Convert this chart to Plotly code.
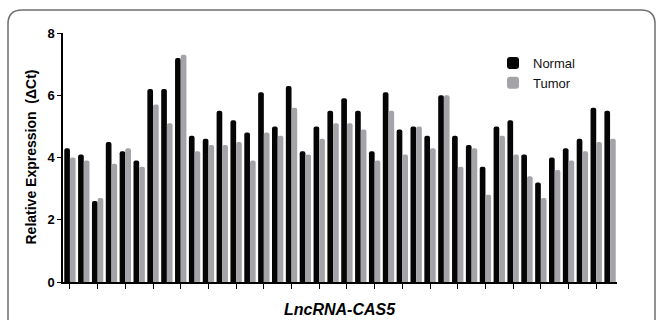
import plotly.graph_objects as go

samples = [str(i) for i in range(1, 41)]
normal = [4.3, 4.1, 2.6, 4.5, 4.2, 3.9, 6.2, 6.2, 7.2, 4.7,
          4.6, 5.5, 5.2, 4.8, 6.1, 5.0, 6.3, 4.2, 5.0, 5.5,
          5.9, 5.5, 4.2, 6.1, 4.9, 5.0, 4.7, 6.0, 4.7, 4.4,
          3.7, 5.0, 5.2, 4.1, 3.2, 4.0, 4.3, 4.6, 5.6, 5.5]
tumor = [4.0, 3.9, 2.7, 3.8, 4.3, 3.7, 5.7, 5.1, 7.3, 4.2,
         4.4, 4.4, 4.5, 3.9, 4.8, 4.7, 5.6, 4.1, 4.6, 5.1,
         5.1, 4.9, 3.9, 5.5, 4.1, 5.0, 4.3, 6.0, 3.7, 4.3,
         2.8, 4.7, 4.1, 3.4, 2.7, 3.6, 3.9, 4.2, 4.5, 4.6]
y_ticks = [0, 2, 4, 6, 8]
x_title = "LncRNA-CAS5"
y_title = "Relative Expression  (ΔCt)"

W, H = 657, 320
L, R, T, B = 63, 40, 33, 38
pw, ph = W - L - R, H - T - B


def px(x):
    return (x - L) / pw


def py(y):
    return (H - B - y) / ph


FONT = "Arial, Liberation Sans, sans-serif"

fig = go.Figure()
fig.add_trace(go.Bar(x=samples, y=normal, name="Normal",
                     marker=dict(color="#050505", line=dict(width=0))))
fig.add_trace(go.Bar(x=samples, y=tumor, name="Tumor",
                     marker=dict(color="#a4a4a8", line=dict(width=0))))

# rounded frame (top and sides)
r = 14
xl, xr, yt, yb = 8, 655, 10, 340
path = (f"M {px(xl)},{py(yb)} L {px(xl)},{py(yt + r)} "
        f"Q {px(xl)},{py(yt)} {px(xl + r)},{py(yt)} "
        f"L {px(xr - r)},{py(yt)} "
        f"Q {px(xr)},{py(yt)} {px(xr)},{py(yt + r)} "
        f"L {px(xr)},{py(yb)}")
fig.add_shape(type="path", path=path, xref="paper", yref="paper",
              line=dict(color="#6e6e6e", width=1.5), layer="below")

fig.add_annotation(text=f"<b><i>{x_title}</i></b>", xref="paper", yref="paper",
                   x=0.5, y=py(309), xanchor="center", yanchor="middle",
                   showarrow=False, font=dict(size=16, family=FONT))
fig.add_annotation(text=f"<b>{y_title}</b>", xref="paper", yref="paper",
                   x=px(30), y=0.5, xanchor="center", yanchor="middle",
                   textangle=-90, showarrow=False,
                   font=dict(size=14, family=FONT))

fig.update_layout(
    width=W, height=H,
    margin=dict(l=L, r=R, t=T, b=B, autoexpand=False),
    barmode="group", bargap=0.18, bargroupgap=0, barcornerradius=2,
    plot_bgcolor="white", paper_bgcolor="white",
    font=dict(family=FONT, color="#000000"),
    showlegend=True,
    legend=dict(x=px(493), y=py(48), xanchor="left", yanchor="top",
                font=dict(size=13, family=FONT, color="#111111"),
                bgcolor="rgba(0,0,0,0)", tracegroupgap=0, itemwidth=30),
    xaxis=dict(range=[-0.5, 39.5], showticklabels=False, automargin=False,
               ticks="outside", ticklen=5, tickwidth=1.3, tickcolor="#000",
               showline=True, linecolor="#000", linewidth=1.5,
               showgrid=False, zeroline=False),
    yaxis=dict(range=[0, 8], tickvals=y_ticks, automargin=False,
               ticktext=[f"<b>{v}</b>" for v in y_ticks],
               tickfont=dict(size=13, family=FONT),
               ticks="outside", ticklen=4, tickwidth=1.3, tickcolor="#000",
               showline=True, linecolor="#000", linewidth=1.5,
               showgrid=False, zeroline=False),
)

fig.write_html("out.html",
               config={"displayModeBar": False},
               post_script="document.body.style.margin='0';")
